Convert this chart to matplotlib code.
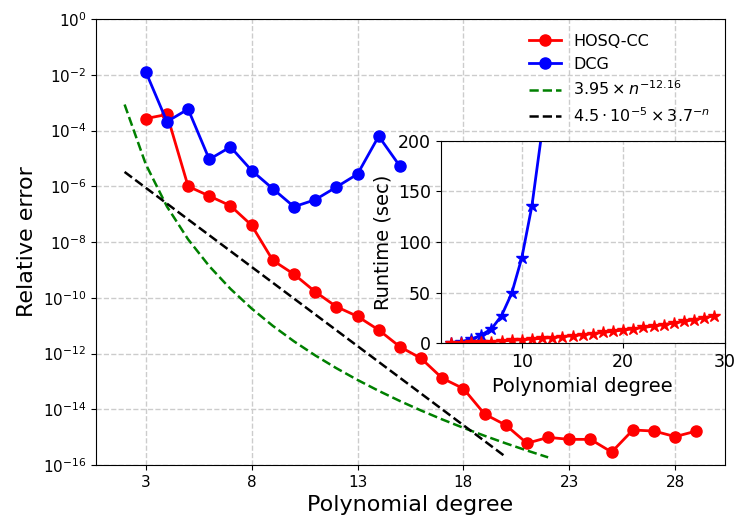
import matplotlib.pyplot as plt
import numpy as np

# Fehler (Hauptdiagramm)
n_hosq = list(range(3, 30))
err_hosq = [2.7e-4, 3.8e-4, 1.0e-6, 4.5e-7, 2.0e-7, 4.0e-8, 2.2e-9, 7.0e-10,
            1.65e-10, 4.8e-11, 2.15e-11, 7.0e-12, 1.75e-12, 6.7e-13, 1.3e-13,
            5.5e-14, 6.7e-15, 2.7e-15, 6.0e-16, 9.8e-16, 8.3e-16, 8.3e-16,
            2.9e-16, 1.8e-15, 1.65e-15, 1.04e-15, 1.65e-15]
n_dcg = list(range(3, 16))
err_dcg = [1.3e-2, 2.1e-4, 5.9e-4, 9.3e-6, 2.6e-5, 3.7e-6, 8.2e-7, 1.85e-7,
           3.3e-7, 9.4e-7, 2.75e-6, 6.3e-5, 5.3e-6]

# Fit-Kurven (aus der Legende)
n_fit1 = np.arange(2, 23)
c1, p1 = 3.95, 12.16
n_fit2 = np.arange(2, 21)
c2, b2 = 4.5e-5, 3.7

# Laufzeit (Inset)
n_rt_hosq = list(range(3, 30))
rt_hosq = [0.4, 0.6, 0.9, 1.3, 1.7, 2.3, 2.9, 3.6, 4.2, 4.9, 5.7, 6.6, 7.5,
           8.5, 9.6, 10.7, 11.9, 13.1, 14.3, 15.6, 17.0, 18.5, 20.0, 21.6,
           23.3, 25.2, 27.2]
n_rt_dcg = list(range(3, 13))
rt_dcg = [0.6, 1.6, 3.9, 8.2, 14.1, 27.3, 49.3, 84.5, 135.9, 210.0]

xticks_main = [3, 8, 13, 18, 23, 28]
yticks_main = [1e-16, 1e-14, 1e-12, 1e-10, 1e-8, 1e-6, 1e-4, 1e-2, 1e0]

fig = plt.figure(figsize=(7.47, 5.32), dpi=100)
ax = fig.add_axes([0.1285, 0.126, 0.842, 0.838])

ax.semilogy(n_hosq, err_hosq, '-o', color='red', lw=2, markersize=8, label='HOSQ-CC')
ax.semilogy(n_dcg, err_dcg, '-o', color='blue', lw=2, markersize=8, label='DCG')
ax.semilogy(n_fit1, c1 * n_fit1 ** (-p1), '--', color='green', lw=1.8,
            label=r'$3.95 \times n^{-12.16}$')
ax.semilogy(n_fit2, c2 * b2 ** (-n_fit2.astype(float)), '--', color='black', lw=1.8,
            label=r'$4.5 \cdot 10^{-5} \times 3.7^{-n}$')

ax.set_ylim(1e-16, 1e0)
ax.set_xticks(xticks_main)
ax.set_yticks(yticks_main)
ax.minorticks_off()
ax.tick_params(labelsize=11)
ax.grid(True, linestyle='--', color='#cccccc', lw=1)
ax.set_xlabel('Polynomial degree', fontsize=16)
ax.set_ylabel('Relative error', fontsize=16)
ax.legend(loc='upper right', frameon=False, fontsize=11.5)

# Inset mit Laufzeiten
axi = fig.add_axes([0.590, 0.3547, 0.380, 0.381])
axi.plot(n_rt_dcg, rt_dcg, '-*', color='blue', lw=2, markersize=9)
axi.plot(n_rt_hosq, rt_hosq, '-*', color='red', lw=2, markersize=9)
axi.set_xlim(2, 30)
axi.set_ylim(0, 200)
axi.set_xticks([10, 20, 30])
axi.set_yticks([0, 50, 100, 150, 200])
axi.tick_params(labelsize=12.5)
axi.grid(True, linestyle='--', color='#cccccc', lw=1)
axi.set_xlabel('Polynomial degree', fontsize=14)
axi.set_ylabel('Runtime (sec)', fontsize=14)

plt.savefig('out.png', dpi=100)
plt.close()
